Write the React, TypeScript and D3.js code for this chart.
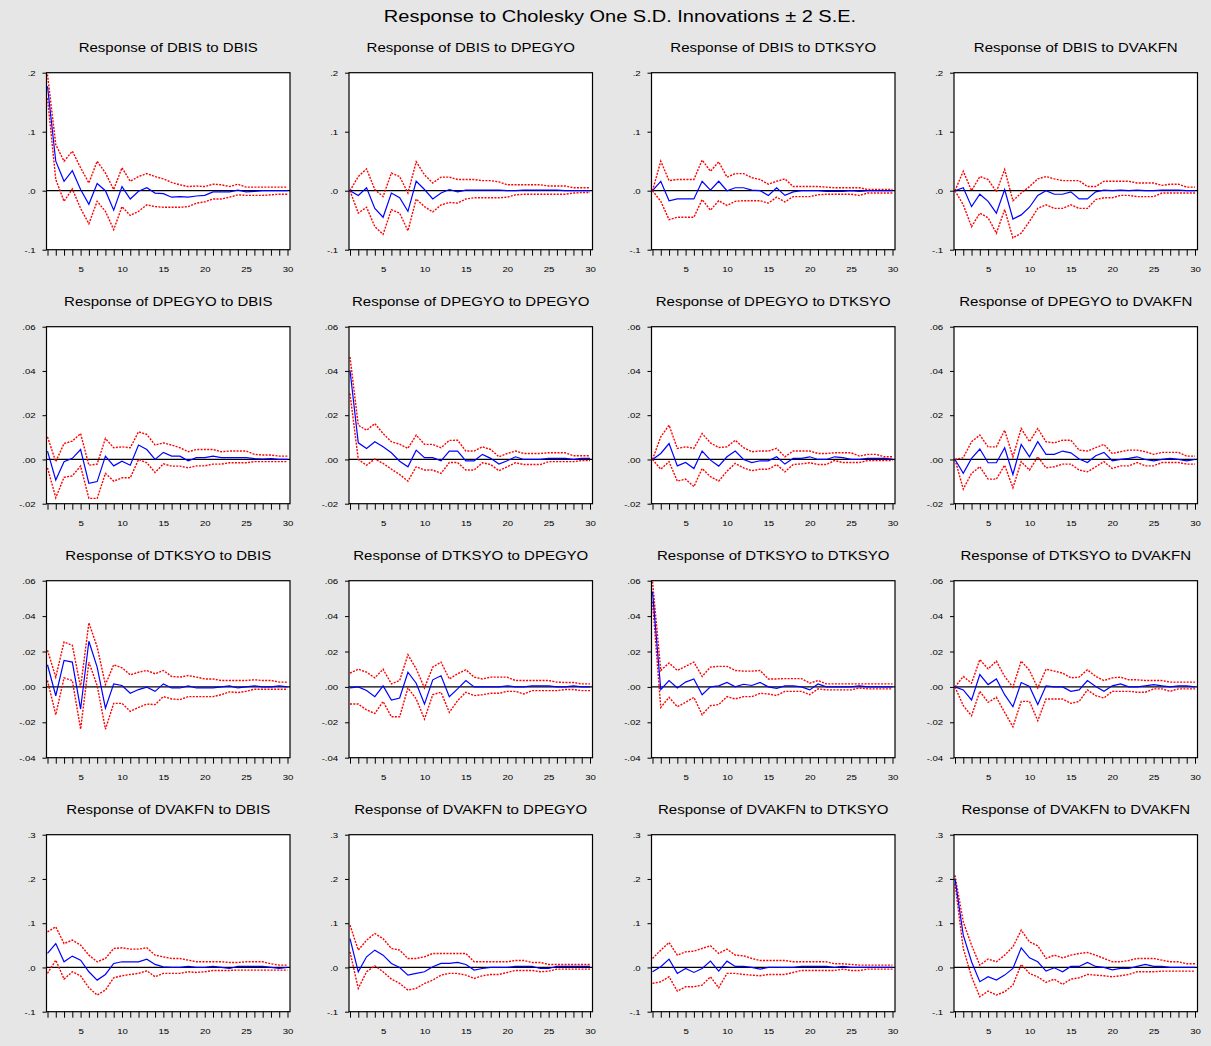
import React, { useEffect, useRef } from "react";
import * as d3 from "d3";

// periods and variable names
const periods = d3.range(1, 31);
const variables = ["DBIS", "DPEGYO", "DTKSYO", "DVAKFN"];
const chartTitle = "Response to Cholesky One S.D. Innovations \u00b1 2 S.E.";

// y axis per row of panels
const rowDomains = [[-0.1, 0.2], [-0.02, 0.06], [-0.04, 0.06], [-0.1, 0.3]];
const rowTicks = [
  [-0.1, 0, 0.1, 0.2],
  [-0.02, 0, 0.02, 0.04, 0.06],
  [-0.04, -0.02, 0, 0.02, 0.04, 0.06],
  [-0.1, 0, 0.1, 0.2, 0.3],
];
const rowTickLabels = [
  ["-.1", ".0", ".1", ".2"],
  ["-.02", ".00", ".02", ".04", ".06"],
  ["-.04", "-.02", ".00", ".02", ".04", ".06"],
  ["-.1", ".0", ".1", ".2", ".3"],
];

// ---- Response of DBIS ----
const respDbisDbis = [0.177, 0.05, 0.016, 0.034, 0.002, -0.023, 0.012, 0.0, -0.033, 0.007, -0.014, -0.001, 0.005, -0.004, -0.005, -0.011, -0.01, -0.011, -0.009, -0.008, -0.002, -0.002, -0.002, 0.001, -0.002, -0.001, 0, 0, 0, 0];
const upperDbisDbis = [0.197, 0.078, 0.05, 0.067, 0.039, 0.013, 0.05, 0.03, 0.002, 0.039, 0.016, 0.024, 0.029, 0.024, 0.02, 0.014, 0.01, 0.007, 0.008, 0.007, 0.011, 0.01, 0.007, 0.011, 0.006, 0.006, 0.006, 0.006, 0.006, 0.006];
const lowerDbisDbis = [0.157, 0.019, -0.018, 0.003, -0.03, -0.056, -0.018, -0.035, -0.066, -0.027, -0.042, -0.035, -0.024, -0.027, -0.028, -0.028, -0.028, -0.027, -0.021, -0.019, -0.014, -0.014, -0.011, -0.007, -0.008, -0.008, -0.008, -0.007, -0.006, -0.006];

const respDbisDpegyo = [0, -0.008, 0.005, -0.03, -0.045, -0.004, -0.012, -0.035, 0.016, 0.002, -0.014, -0.004, 0.002, -0.002, 0.001, 0.001, 0.001, 0.001, 0.001, 0, 0, 0.001, 0.001, 0.001, 0.001, 0.001, 0, 0, 0, 0];
const upperDbisDpegyo = [0, 0.024, 0.037, 0.002, -0.01, 0.03, 0.024, -0.004, 0.049, 0.027, 0.013, 0.023, 0.023, 0.019, 0.019, 0.019, 0.017, 0.017, 0.015, 0.01, 0.01, 0.01, 0.01, 0.01, 0.008, 0.008, 0.008, 0.005, 0.005, 0.005];
const lowerDbisDpegyo = [0, -0.038, -0.028, -0.061, -0.074, -0.032, -0.038, -0.068, -0.014, -0.027, -0.036, -0.024, -0.02, -0.021, -0.014, -0.012, -0.012, -0.012, -0.012, -0.011, -0.007, -0.006, -0.006, -0.006, -0.006, -0.006, -0.006, -0.004, -0.003, -0.003];

const respDbisDtksyo = [0, 0.016, -0.017, -0.014, -0.014, -0.014, 0.016, 0.001, 0.016, 0, 0.005, 0.005, 0.001, 0, -0.008, 0.005, -0.008, -0.002, 0, 0, 0, -0.001, -0.001, -0.001, 0, -0.001, 0, 0, 0, 0];
const upperDbisDtksyo = [0, 0.05, 0.017, 0.019, 0.019, 0.019, 0.052, 0.033, 0.049, 0.023, 0.029, 0.029, 0.022, 0.019, 0.011, 0.016, 0.02, 0.007, 0.007, 0.007, 0.007, 0.006, 0.005, 0.005, 0.005, 0.005, 0.002, 0.002, 0.002, 0.002];
const lowerDbisDtksyo = [0, -0.018, -0.049, -0.045, -0.045, -0.045, -0.015, -0.033, -0.017, -0.025, -0.018, -0.017, -0.017, -0.017, -0.021, -0.011, -0.019, -0.01, -0.01, -0.01, -0.007, -0.006, -0.006, -0.006, -0.006, -0.008, -0.004, -0.004, -0.004, -0.004];

const respDbisDvakfn = [0, 0.005, -0.027, -0.006, -0.018, -0.038, 0.002, -0.048, -0.041, -0.028, -0.008, 0, -0.006, -0.006, -0.002, -0.014, -0.014, -0.002, 0.001, 0, 0.001, 0, 0.001, 0, 0, 0.001, 0.001, 0.001, 0, 0];
const upperDbisDvakfn = [0, 0.033, 0, 0.024, 0.019, -0.002, 0.036, -0.017, -0.004, 0.007, 0.02, 0.024, 0.02, 0.017, 0.017, 0.017, 0.007, 0.007, 0.016, 0.016, 0.016, 0.016, 0.013, 0.013, 0.013, 0.009, 0.011, 0.011, 0.006, 0.006];
const lowerDbisDvakfn = [0, -0.024, -0.061, -0.038, -0.046, -0.072, -0.032, -0.08, -0.072, -0.052, -0.03, -0.024, -0.03, -0.03, -0.024, -0.03, -0.03, -0.015, -0.012, -0.012, -0.008, -0.008, -0.01, -0.01, -0.01, -0.004, -0.004, -0.004, -0.004, -0.004];

// ---- Response of DPEGYO ----
const respDpegyoDbis = [0.0038, -0.0093, -0.001, 0.0005, 0.0045, -0.0108, -0.01, 0.0015, -0.0029, -0.0008, -0.0026, 0.0065, 0.0045, 0, 0.0032, 0.0015, 0.0015, -0.0006, 0.0008, 0.0008, 0.0015, 0.0008, 0.0008, 0.0008, 0.0008, 0.0004, 0.0002, 0.0004, 0, 0];
const upperDpegyoDbis = [0.0102, -0.001, 0.0072, 0.0083, 0.0117, -0.0026, -0.0021, 0.0095, 0.0053, 0.0057, 0.0053, 0.0125, 0.0113, 0.0065, 0.0075, 0.0065, 0.0053, 0.0035, 0.0045, 0.0045, 0.0045, 0.0035, 0.0038, 0.0038, 0.0038, 0.0023, 0.002, 0.002, 0.0015, 0.0015];
const lowerDpegyoDbis = [-0.0038, -0.0173, -0.0081, -0.0074, -0.003, -0.0176, -0.0176, -0.0063, -0.0098, -0.0083, -0.0083, 0, -0.0015, -0.0059, -0.002, -0.003, -0.003, -0.0038, -0.0029, -0.0029, -0.0021, -0.0021, -0.0015, -0.0015, -0.0015, -0.001, -0.001, -0.001, -0.001, -0.001];

const respDpegyoDpegyo = [0.0403, 0.0075, 0.005, 0.008, 0.0057, 0.003, -0.0008, -0.0033, 0.0042, 0.0008, 0.0008, -0.0006, 0.0038, 0.0038, -0.0006, -0.0006, 0.0023, 0.0005, -0.0021, -0.0006, 0.0012, 0, 0, 0, 0.0005, 0.0005, 0.0005, 0, 0.0005, 0.0005];
const upperDpegyoDpegyo = [0.0463, 0.0155, 0.0132, 0.0162, 0.0117, 0.008, 0.0069, 0.005, 0.011, 0.0068, 0.0068, 0.0053, 0.0086, 0.0087, 0.0038, 0.0038, 0.0057, 0.0045, 0.0012, 0.0027, 0.0038, 0.0027, 0.0027, 0.0027, 0.003, 0.003, 0.003, 0.0017, 0.0017, 0.0017];
const lowerDpegyoDpegyo = [0.0298, 0, -0.0026, 0.0002, -0.0018, -0.0044, -0.0068, -0.0098, -0.0033, -0.0048, -0.0048, -0.0063, -0.0014, -0.0014, -0.0048, -0.0048, -0.0015, -0.0023, -0.0051, -0.0033, -0.0015, -0.0023, -0.0023, -0.0023, -0.001, -0.001, -0.001, -0.001, -0.0005, -0.0005];

const respDpegyoDtksyo = [0, 0.0027, 0.0072, -0.0029, -0.0014, -0.0041, 0.0038, -0.0003, -0.003, 0.0012, 0.0038, 0, -0.0014, -0.0006, -0.0006, 0.0012, -0.0021, 0.0005, 0.0005, 0.0012, 0, 0, 0.0012, 0.0008, 0, 0, 0.0005, 0.0005, 0.0005, 0.0002];
const upperDpegyoDtksyo = [0, 0.0102, 0.0155, 0.005, 0.0057, 0.005, 0.0117, 0.0075, 0.0054, 0.0057, 0.0087, 0.0053, 0.0035, 0.0038, 0.0038, 0.005, 0.0012, 0.0038, 0.0038, 0.0038, 0.0027, 0.0027, 0.003, 0.003, 0.003, 0.0015, 0.0023, 0.0023, 0.0012, 0.0012];
const lowerDpegyoDtksyo = [0, -0.0044, -0.001, -0.0098, -0.0089, -0.0123, -0.0041, -0.0078, -0.0098, -0.0053, -0.0018, -0.0038, -0.0051, -0.0044, -0.0044, -0.0023, -0.0056, -0.0023, -0.002, -0.0015, -0.0023, -0.0023, -0.0005, -0.0014, -0.0014, -0.0014, -0.0005, -0.0005, -0.0005, -0.0005];

const respDpegyoDvakfn = [0, -0.0063, 0.0005, 0.0047, -0.0015, -0.0015, 0.0053, -0.0068, 0.0068, 0.0012, 0.008, 0.0023, 0.0023, 0.0038, 0.003, 0.0002, -0.0014, 0.0017, 0.0032, -0.0006, 0, 0.0005, 0.0012, 0, -0.0006, 0, 0.0005, 0, -0.0006, 0];
const upperDpegyoDvakfn = [0, 0.0008, 0.008, 0.011, 0.0057, 0.0057, 0.0132, 0.0012, 0.014, 0.008, 0.014, 0.008, 0.0075, 0.0087, 0.0087, 0.0042, 0.0038, 0.0053, 0.0068, 0.0027, 0.0035, 0.0042, 0.0042, 0.0035, 0.0023, 0.0032, 0.0032, 0.0032, 0.0015, 0.0015];
const lowerDpegyoDvakfn = [0, -0.0134, -0.0063, -0.0033, -0.0089, -0.0089, -0.0026, -0.0128, -0.001, -0.0048, 0.0012, -0.0038, -0.0033, -0.0021, -0.0021, -0.0048, -0.0056, -0.0033, -0.001, -0.0041, -0.0029, -0.0029, -0.0014, -0.0029, -0.0029, -0.0014, -0.0014, -0.0014, -0.0021, -0.0021];

// ---- Response of DTKSYO ----
const respDtksyoDbis = [0.0125, -0.005, 0.015, 0.014, -0.0125, 0.0258, 0.0112, -0.012, 0.0017, 0.0008, -0.0036, -0.0015, -0.0002, -0.0025, 0.0017, -0.0006, -0.0006, 0.0006, -0.0006, -0.0006, -0.0006, 0, 0.0006, -0.0006, 0, 0.0006, 0, 0, 0.0006, 0];
const upperDtksyoDbis = [0.0207, 0.0055, 0.0254, 0.0235, -0.0002, 0.0362, 0.0226, 0.0013, 0.0125, 0.0108, 0.0068, 0.0083, 0.0093, 0.0074, 0.0093, 0.0059, 0.0055, 0.0064, 0.0055, 0.0045, 0.0045, 0.0036, 0.0036, 0.0036, 0.0036, 0.004, 0.0036, 0.0036, 0.0027, 0.0027];
const lowerDtksyoDbis = [0.0036, -0.0157, 0.0051, 0.0036, -0.0239, 0.014, 0.0008, -0.0239, -0.0093, -0.0093, -0.0138, -0.0116, -0.0097, -0.01, -0.0055, -0.0068, -0.0072, -0.0055, -0.0055, -0.0055, -0.0055, -0.0044, -0.0028, -0.0032, -0.0025, -0.0013, -0.0013, -0.0013, -0.0013, -0.0013];

const respDtksyoDpegyo = [-0.0006, 0, -0.002, -0.0055, 0.0006, -0.0074, -0.0063, 0.0083, 0.0021, -0.0097, 0.004, 0.0063, -0.0055, -0.0011, 0.0036, 0, 0, 0, 0, 0.0006, 0, 0, 0.0006, 0.0006, 0.0006, 0, 0, 0.0006, 0, 0];
const upperDtksyoDpegyo = [0.0078, 0.01, 0.0083, 0.0051, 0.01, 0.0017, 0.0036, 0.0182, 0.0102, -0.0006, 0.0112, 0.014, 0.0045, 0.0074, 0.0097, 0.0055, 0.0045, 0.0055, 0.0055, 0.0055, 0.0036, 0.0036, 0.0036, 0.0036, 0.0036, 0.0027, 0.0025, 0.0025, 0.0017, 0.0017];
const lowerDtksyoDpegyo = [-0.0097, -0.0097, -0.013, -0.015, -0.0083, -0.0169, -0.0169, -0.0006, -0.0068, -0.0182, -0.0044, -0.003, -0.0144, -0.0078, -0.003, -0.0049, -0.0044, -0.0036, -0.0036, -0.0025, -0.0025, -0.004, -0.0021, -0.0021, -0.0021, -0.0021, -0.0015, -0.0015, -0.0021, -0.0021];

const respDtksyoDtksyo = [0.0538, -0.0015, 0.0036, -0.0006, 0.0027, 0.0045, -0.0044, 0, 0.0006, 0.0025, 0, 0.0015, 0.0008, 0.0025, 0, -0.0008, 0.0006, 0.0006, 0, -0.0017, 0.0017, 0, 0, 0, 0, 0.0006, 0, 0, 0, 0];
const upperDtksyoDtksyo = [0.0595, 0.0093, 0.0135, 0.0093, 0.0116, 0.014, 0.0059, 0.0112, 0.0116, 0.0116, 0.0093, 0.0089, 0.0089, 0.0093, 0.0045, 0.0045, 0.0047, 0.0047, 0.0047, 0.0021, 0.0036, 0.0017, 0.0017, 0.0017, 0.0017, 0.0017, 0.0017, 0.0017, 0.0017, 0.0017];
const lowerDtksyoDtksyo = [0.0482, -0.0116, -0.0059, -0.0112, -0.0087, -0.0059, -0.0157, -0.0106, -0.01, -0.0055, -0.0068, -0.0055, -0.0055, -0.0036, -0.004, -0.0049, -0.0025, -0.0025, -0.0025, -0.0044, -0.0011, -0.0017, -0.0017, -0.0017, -0.0017, -0.0006, -0.0011, -0.0011, -0.0011, -0.0011];

const respDtksyoDvakfn = [0, -0.0017, -0.0074, 0.007, 0.0013, 0.0045, -0.0044, -0.0112, 0.0025, 0.0002, -0.01, 0.0006, 0, 0, -0.0025, -0.0017, 0.0036, 0.0002, -0.0025, 0.0006, 0.0017, 0, 0, 0.0006, 0.0013, 0.0006, 0, 0.0006, 0.0006, 0];
const upperDtksyoDvakfn = [0, 0.0059, 0.0021, 0.0154, 0.0102, 0.0146, 0.0059, -0.0002, 0.0146, 0.0093, -0.0006, 0.01, 0.0089, 0.0078, 0.0051, 0.0055, 0.0097, 0.0059, 0.0036, 0.0051, 0.0055, 0.004, 0.004, 0.0036, 0.0036, 0.0036, 0.0027, 0.0027, 0.0027, 0.0027];
const lowerDtksyoDvakfn = [0, -0.0106, -0.0163, -0.0025, -0.0087, -0.0059, -0.0144, -0.0226, -0.0082, -0.0082, -0.0191, -0.0068, -0.0068, -0.0068, -0.0093, -0.0082, -0.0017, -0.0049, -0.0063, -0.0025, -0.0025, -0.0025, -0.003, -0.003, -0.0011, -0.0011, -0.0025, -0.0011, -0.0011, -0.0011];

// ---- Response of DVAKFN ----
const respDvakfnDbis = [0.0316, 0.054, 0.0128, 0.0256, 0.0165, -0.0098, -0.0286, -0.0158, 0.009, 0.0128, 0.0128, 0.0128, 0.0188, 0.0068, 0.0015, 0, 0, 0.0023, 0, 0, 0.0023, 0, -0.0023, 0.0023, 0.0023, 0.0023, 0.0023, 0, -0.0023, 0];
const upperDvakfnDbis = [0.0805, 0.0917, 0.054, 0.0617, 0.0504, 0.0278, 0.0128, 0.0203, 0.0429, 0.0444, 0.0414, 0.0414, 0.0444, 0.0278, 0.024, 0.0203, 0.0203, 0.0165, 0.0128, 0.0128, 0.0128, 0.0128, 0.0113, 0.0113, 0.0128, 0.0128, 0.0128, 0.0083, 0.0053, 0.0053];
const lowerDvakfnDbis = [-0.0135, 0.0165, -0.0263, -0.0098, -0.0188, -0.0459, -0.0624, -0.0511, -0.0233, -0.0188, -0.0158, -0.0135, -0.0075, -0.0211, -0.0135, -0.0135, -0.0135, -0.0098, -0.0113, -0.0098, -0.0068, -0.0068, -0.0068, -0.006, -0.006, -0.006, -0.006, -0.006, -0.006, -0.006];

const respDvakfnDpegyo = [0.065, -0.0098, 0.024, 0.0391, 0.0278, 0.009, 0, -0.0173, -0.0135, -0.0098, 0.0015, 0.009, 0.009, 0.0113, 0.0068, -0.006, -0.0023, 0, 0, 0, 0.0023, 0.0023, 0.0023, -0.0023, -0.0023, 0.0023, 0.0023, 0.0023, 0.0023, 0.0023];
const upperDvakfnDpegyo = [0.0955, 0.0391, 0.0617, 0.0767, 0.065, 0.0429, 0.0391, 0.0203, 0.0203, 0.024, 0.0316, 0.0316, 0.0316, 0.0316, 0.0316, 0.0128, 0.0128, 0.0128, 0.0128, 0.0128, 0.0158, 0.0158, 0.0113, 0.0113, 0.0068, 0.0068, 0.0068, 0.0068, 0.0068, 0.0068];
const lowerDvakfnDpegyo = [0.0353, -0.0474, -0.0098, 0.0038, -0.0098, -0.0263, -0.0361, -0.0511, -0.0474, -0.0361, -0.0286, -0.0173, -0.0135, -0.0135, -0.0173, -0.0248, -0.0188, -0.0158, -0.0158, -0.0113, -0.0068, -0.0068, -0.0068, -0.0098, -0.0083, -0.0038, -0.0038, -0.0038, -0.0038, -0.0038];

const respDvakfnDtksyo = [-0.0098, 0.0015, 0.0188, -0.0135, -0.0023, -0.0113, -0.0023, 0.0143, -0.0083, 0.0143, 0.0023, 0.0023, 0, -0.0038, 0, 0, 0, 0, 0.0023, 0.0023, 0.0023, 0.0023, 0, 0.0023, 0, 0, 0, 0, 0, 0];
const upperDvakfnDtksyo = [0.0203, 0.0391, 0.0564, 0.0278, 0.0353, 0.0368, 0.0429, 0.0489, 0.0316, 0.0414, 0.0278, 0.0263, 0.0203, 0.0158, 0.0158, 0.0158, 0.0158, 0.0128, 0.0128, 0.0128, 0.0128, 0.0128, 0.0083, 0.0083, 0.0068, 0.0053, 0.0053, 0.0053, 0.0053, 0.0053];
const lowerDvakfnDtksyo = [-0.0361, -0.0323, -0.0211, -0.0534, -0.0436, -0.0436, -0.0398, -0.0211, -0.0459, -0.0135, -0.0135, -0.0158, -0.0173, -0.0188, -0.0158, -0.0158, -0.0158, -0.0113, -0.0068, -0.0068, -0.0068, -0.0068, -0.0068, -0.0038, -0.0068, -0.0068, -0.0038, -0.0038, -0.0038, -0.0038];

const respDvakfnDvakfn = [0.2008, 0.0729, 0.0128, -0.0323, -0.0211, -0.0286, -0.0173, -0.0023, 0.0444, 0.0218, 0.0128, -0.0083, -0.0008, -0.0098, 0.0023, 0.0023, 0.0113, 0.0023, 0, -0.0053, -0.0023, -0.0023, 0.0023, 0.0068, 0.0023, 0.0023, 0, 0, 0, 0];
const upperDvakfnDvakfn = [0.2083, 0.103, 0.0504, 0.0053, 0.0188, 0.0128, 0.0278, 0.0466, 0.0842, 0.0579, 0.0489, 0.0203, 0.0278, 0.0218, 0.0278, 0.0316, 0.0338, 0.0278, 0.0203, 0.0128, 0.0128, 0.0158, 0.0203, 0.0203, 0.0203, 0.0165, 0.0128, 0.0128, 0.0083, 0.0083];
const lowerDvakfnDvakfn = [0.1895, 0.0429, -0.0211, -0.0662, -0.0534, -0.0624, -0.0549, -0.0398, 0.0068, -0.0135, -0.0211, -0.0338, -0.0263, -0.0383, -0.0263, -0.0233, -0.0158, -0.0173, -0.0188, -0.0211, -0.0188, -0.0158, -0.0098, -0.0098, -0.0098, -0.0083, -0.0083, -0.0083, -0.0083, -0.0083];

// panels in row-major order: [response, upper band, lower band]
const panelData = [
  [respDbisDbis, upperDbisDbis, lowerDbisDbis],
  [respDbisDpegyo, upperDbisDpegyo, lowerDbisDpegyo],
  [respDbisDtksyo, upperDbisDtksyo, lowerDbisDtksyo],
  [respDbisDvakfn, upperDbisDvakfn, lowerDbisDvakfn],
  [respDpegyoDbis, upperDpegyoDbis, lowerDpegyoDbis],
  [respDpegyoDpegyo, upperDpegyoDpegyo, lowerDpegyoDpegyo],
  [respDpegyoDtksyo, upperDpegyoDtksyo, lowerDpegyoDtksyo],
  [respDpegyoDvakfn, upperDpegyoDvakfn, lowerDpegyoDvakfn],
  [respDtksyoDbis, upperDtksyoDbis, lowerDtksyoDbis],
  [respDtksyoDpegyo, upperDtksyoDpegyo, lowerDtksyoDpegyo],
  [respDtksyoDtksyo, upperDtksyoDtksyo, lowerDtksyoDtksyo],
  [respDtksyoDvakfn, upperDtksyoDvakfn, lowerDtksyoDvakfn],
  [respDvakfnDbis, upperDvakfnDbis, lowerDvakfnDbis],
  [respDvakfnDpegyo, upperDvakfnDpegyo, lowerDvakfnDpegyo],
  [respDvakfnDtksyo, upperDvakfnDtksyo, lowerDvakfnDtksyo],
  [respDvakfnDvakfn, upperDvakfnDvakfn, lowerDvakfnDvakfn],
];

const W = 1211,
  H = 1046;
const frameW = 243.5,
  frameH = 177;
const FONT = "'Liberation Sans', Arial, sans-serif";
const SX = 1.2; // the picture is stretched sideways a little

function drawChart(node: SVGSVGElement) {
  const svg = d3.select(node);
  svg.selectAll("*").remove();

  svg.append("rect").attr("width", W).attr("height", H).attr("fill", "#e6e6e6");

  svg
    .append("text")
    .attr("transform", `translate(620,22) scale(1.25,1)`)
    .attr("text-anchor", "middle")
    .style("font-family", FONT)
    .style("font-size", "16px")
    .attr("fill", "#000")
    .text(chartTitle);

  panelData.forEach((series, i) => {
    const r = Math.floor(i / 4),
      c = i % 4;
    const left = 46.5 + c * 302.5;
    const top = 72.7 + r * 254;

    const x = d3.scaleLinear().domain([1, 30]).range([left + 1, left + 241]);
    const y = d3
      .scaleLinear()
      .domain(rowDomains[r])
      .range([top + frameH, top]);

    const g = svg.append("g");

    // panel title
    g.append("text")
      .attr("transform", `translate(${left + frameW / 2},${top - 21}) scale(${SX},1)`)
      .attr("text-anchor", "middle")
      .style("font-family", FONT)
      .style("font-size", "12.5px")
      .attr("fill", "#000")
      .text(`Response of ${variables[r]} to ${variables[c]}`);

    g.append("rect")
      .attr("x", left)
      .attr("y", top)
      .attr("width", frameW)
      .attr("height", frameH)
      .attr("fill", "#fff");

    // zero line
    g.append("line")
      .attr("x1", left)
      .attr("x2", left + frameW)
      .attr("y1", y(0))
      .attr("y2", y(0))
      .attr("stroke", "#000")
      .attr("stroke-width", 1.3);

    const line = d3
      .line<number>()
      .x((_, k) => x(periods[k]))
      .y((d) => y(d));

    const [resp, upper, lower] = series;
    [upper, lower].forEach((band) => {
      g.append("path")
        .attr("d", line(band))
        .attr("fill", "none")
        .attr("stroke", "#ff0000")
        .attr("stroke-width", 1.4)
        .attr("stroke-dasharray", "2,1.3");
    });
    g.append("path")
      .attr("d", line(resp))
      .attr("fill", "none")
      .attr("stroke", "#0000ff")
      .attr("stroke-width", 1.2);

    g.append("rect")
      .attr("x", left)
      .attr("y", top)
      .attr("width", frameW)
      .attr("height", frameH)
      .attr("fill", "none")
      .attr("stroke", "#000")
      .attr("stroke-width", 1.2);

    // y axis
    const yAxis = g
      .append("g")
      .attr("transform", `translate(${left},0)`)
      .call(
        d3
          .axisLeft(y)
          .tickValues(rowTicks[r])
          .tickFormat((_, k) => rowTickLabels[r][k])
          .tickSize(4)
          .tickPadding(5)
      );
    yAxis.select(".domain").remove();
    yAxis.selectAll("line").attr("stroke", "#000");
    yAxis
      .selectAll("text")
      .attr("transform", `scale(${SX},1)`)
      .style("font-family", FONT)
      .style("font-size", "8px")
      .attr("fill", "#000");

    // x axis
    const xAxis = g
      .append("g")
      .attr("transform", `translate(0,${top + frameH})`)
      .call(
        d3
          .axisBottom(x)
          .tickValues(periods)
          .tickFormat((d) => (+d % 5 === 0 ? String(d) : ""))
          .tickSize(6)
          .tickPadding(11)
      );
    xAxis.select(".domain").remove();
    xAxis.selectAll("line").attr("stroke", "#000");
    xAxis
      .selectAll("text")
      .attr("transform", `scale(${SX},1)`)
      .style("font-family", FONT)
      .style("font-size", "8px")
      .attr("fill", "#000");
  });
}

export default function App() {
  const ref = useRef<SVGSVGElement>(null);
  useEffect(() => {
    if (ref.current) drawChart(ref.current);
  }, []);
  return (
    <svg
      ref={ref}
      width={W}
      height={H}
      style={{ position: "absolute", left: 0, top: 0, display: "block" }}
    />
  );
}
